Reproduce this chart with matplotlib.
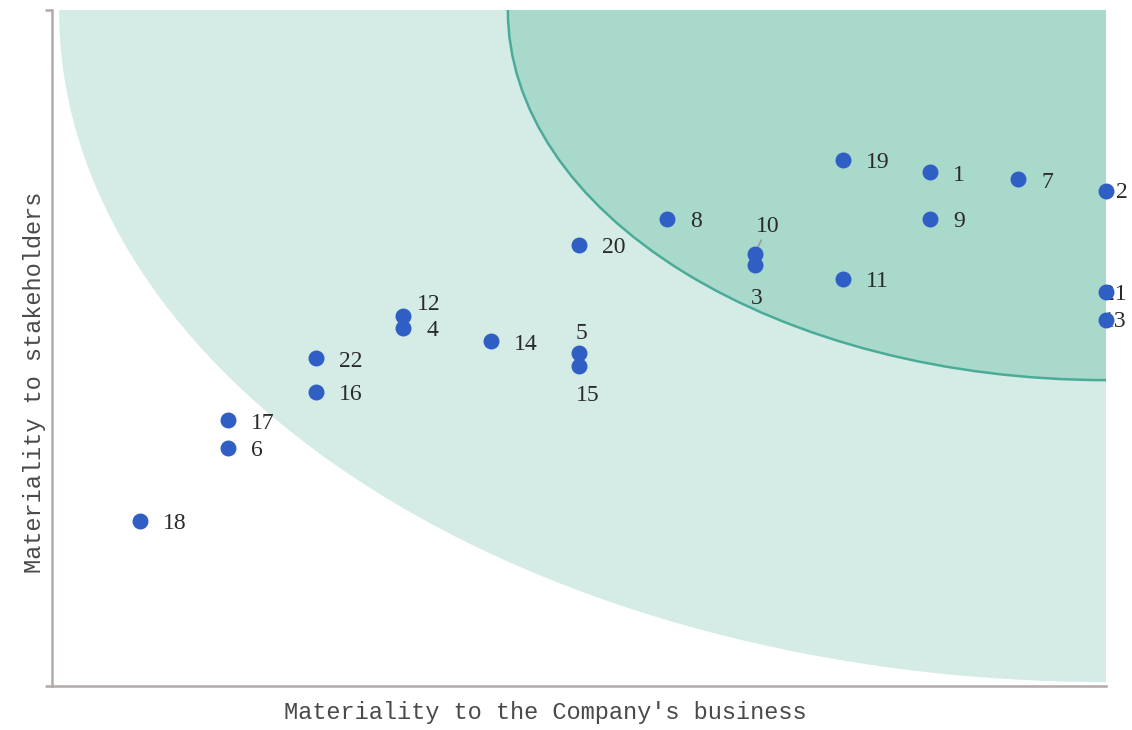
import matplotlib.pyplot as plt
from matplotlib.patches import Ellipse

# issue ids with their position on the matrix
issues = ["18", "6", "17", "16", "22", "12", "4", "14", "5", "15", "20",
          "8", "10", "3", "19", "1", "7", "2", "9", "11", "21", "13"]
business = [1, 2, 2, 3, 3, 4, 4, 5, 6, 6, 6,
            7, 8, 8, 9, 10, 11, 12, 10, 9, 12, 12]
stakeholders = [2.93, 4.23, 4.72, 5.22, 5.82, 6.57, 6.36, 6.12, 5.91, 5.68, 7.83,
                8.29, 7.67, 7.47, 9.34, 9.12, 9.00, 8.79, 8.29, 7.23, 6.99, 6.50]

# label offsets in pixels (default is to the right of the dot)
offsets = {"10": (13, 27), "3": (2, -33), "5": (2, 20), "15": (9, -29),
           "12": (14, 11), "4": (23, -3), "21": (-3, -2), "13": (-3, -2), "2": (10, -2)}
centered = {"10", "3", "5", "15"}

light_r = (11.92, 11.93)
dark_r = (6.81, 6.57)

fig = plt.figure(figsize=(11.32, 7.30), dpi=100)
ax = fig.add_axes([52 / 1132, 1 - 686 / 730, 1054 / 1132, 676 / 730])
ax.set_xlim(0, 12)
ax.set_ylim(0, 12)

ax.add_patch(Ellipse((12, 12), 2 * light_r[0], 2 * light_r[1],
                     facecolor="#d4ece5", edgecolor="none", zorder=1))
ax.add_patch(Ellipse((12, 12), 2 * dark_r[0], 2 * dark_r[1],
                     facecolor="#a9d9cb", edgecolor="#4aab98", lw=1.8, zorder=2))

ax.scatter(business, stakeholders, s=110, color="#2f5fc4", zorder=5, clip_on=False)

for name, x, y in zip(issues, business, stakeholders):
    dx, dy = offsets.get(name, (23, -3))
    ha = "center" if name in centered else "left"
    kw = {}
    if name == "10":
        kw["arrowprops"] = dict(arrowstyle="-", color="#9a9a9a", lw=1.2,
                                shrinkA=12, shrinkB=2)
    ax.annotate(name, (x, y), xytext=(dx, dy), textcoords="offset pixels",
                ha=ha, va="center", fontsize=17, family="Liberation Serif",
                color="#2a2a2a", zorder=4, annotation_clip=False, **kw)

for side in ["top", "right"]:
    ax.spines[side].set_visible(False)
for side in ["left", "bottom"]:
    ax.spines[side].set_color("#b3a9a9")
    ax.spines[side].set_linewidth(1.8)
ax.set_xticks([])
ax.set_yticks([0, 12])
ax.set_yticklabels([])
ax.tick_params(axis="y", length=5, width=1.8, color="#b3a9a9")

fig.text(545 / 1132, 1 - 713 / 730, "Materiality to the Company's business",
         ha="center", va="center", fontsize=17, family="Liberation Mono", color="#4a4a4a")
fig.text(35 / 1132, 1 - 382 / 730, "Materiality to stakeholders", rotation=90,
         ha="center", va="center", fontsize=17, family="Liberation Mono", color="#4a4a4a")

fig.savefig("out.png", dpi=100)
